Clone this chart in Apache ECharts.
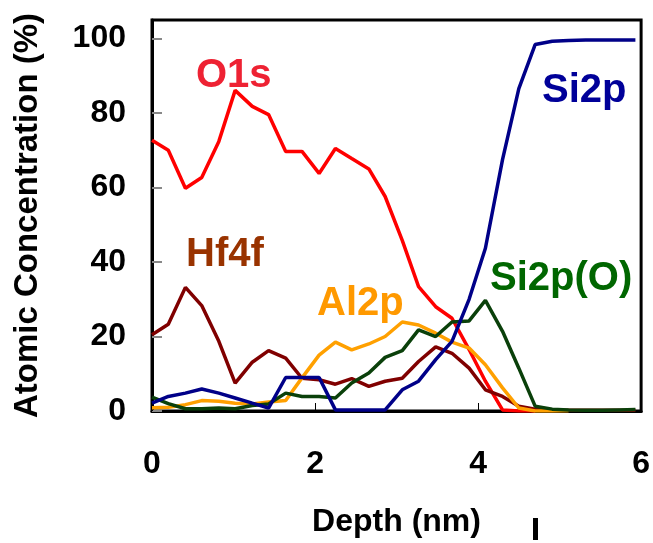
<!DOCTYPE html>
<html>
<head>
<meta charset="utf-8">
<script src="https://cdn.jsdelivr.net/npm/echarts/dist/echarts.min.js"></script>
<style>
  html, body { margin: 0; padding: 0; background: #fff; }
  #main { width: 653px; height: 543px; }
</style>
</head>
<body>
<div id="main"></div>
<script>
// depth (nm) of each sputter step
var depth = [0, 0.20, 0.41, 0.61, 0.82, 1.02, 1.23, 1.43, 1.64, 1.84, 2.05, 2.25, 2.45, 2.66, 2.86,
             3.07, 3.27, 3.48, 3.68, 3.89, 4.09, 4.30, 4.50, 4.70, 4.91, 5.11, 5.32, 5.52, 5.73, 5.93];

// atomic concentration (%)
var o1s   = [72.7, 70, 59.8, 62.7, 72.4, 86.1, 81.8, 79.6, 69.7, 69.7, 63.8, 70.5, 67.8, 65, 57.6,
             45.8, 33.4, 28, 24.9, 16.5, 8, 0.3, 0, 0, null, null, null, null, null, null];
var hf4f  = [20.5, 23.3, 33.2, 28.3, 18.7, 7.5, 13.1, 16.2, 14.2, 8.8, 8.4, 7.2, 8.7, 6.6, 8.0,
             8.8, 13.3, 17.2, 15.5, 11.5, 5.7, 3.9, 1.3, 0.5, 0.3, 0.2, 0.2, 0.2, 0.2, 0.2];
var al2p  = [0.9, 1, 1.7, 2.8, 2.6, 2.1, 1.9, 2.4, 2.8, 8.9, 15, 18.5, 16.4, 18, 20,
             23.9, 23.1, 20.9, 18.5, 16.9, 12.4, 6.2, 0.8, 0, 0, 0.1, null, null, null, null];
var si2pO = [3.7, 2.0, 0.6, 0.6, 0.8, 0.6, 1.5, 1.9, 4.8, 3.9, 3.9, 3.5, 7.5, 10.2, 14.4,
             16.2, 21.8, 20, 23.9, 24.2, 29.7, 21.4, 11.5, 1.3, 0.5, 0.3, 0.2, 0.2, 0.3, 0.4];
var si2p  = [2.1, 3.9, 4.8, 5.9, 4.8, 3.5, 2.1, 0.8, 9, 9, 9, 0.3, 0.3, 0.3, 0.3,
             5.7, 8, 13.8, 18.7, 30, 43.7, 67.5, 86.6, 98.4, 99.3, 99.5, 99.6, 99.6, 99.6, 99.6];

var names = ['O1s', 'Hf4f', 'Al2p', 'Si2p(O)', 'Si2p'];
var lineColors = ['#ff0000', '#800000', '#ffa000', '#0a400a', '#000088'];

function pairs(vals) {
  var out = [];
  for (var i = 0; i < depth.length; i++) {
    if (vals[i] !== null) out.push([depth[i], vals[i]]);
  }
  return out;
}

var chart = echarts.init(document.getElementById('main'));
var font = 'Liberation Sans, Arial, sans-serif';

var series = [o1s, hf4f, al2p, si2pO, si2p].map(function (vals, k) {
  return {
    name: names[k],
    type: 'line',
    data: pairs(vals),
    symbol: 'none',
    lineStyle: { color: lineColors[k], width: 3.5 },
    z: 2 + k
  };
});

// curve labels
function lbl(text, x, y, color) {
  return {
    type: 'text', left: x, top: y, z: 100,
    style: { text: text, fill: color, font: 'bold 40px ' + font }
  };
}

var option = {
  animation: false,
  backgroundColor: '#fff',
  grid: {
    left: 152, right: 11, top: 20, bottom: 130,
    show: true, borderColor: '#000', borderWidth: 3
  },
  xAxis: {
    type: 'value', min: 0, max: 6, interval: 2,
    name: 'Depth (nm)', nameLocation: 'middle', nameGap: 95,
    nameTextStyle: { fontFamily: font, fontWeight: 'bold', fontSize: 32, color: '#000' },
    axisLine: { lineStyle: { color: '#000', width: 3 } },
    axisTick: { inside: true, length: 8, lineStyle: { color: '#000', width: 1 } },
    axisLabel: { margin: 37, fontFamily: font, fontWeight: 'bold', fontSize: 32, color: '#000' },
    splitLine: { show: false }
  },
  yAxis: {
    type: 'value', min: 0, max: 105, interval: 20,
    name: 'Atomic Concentration (%)', nameLocation: 'middle', nameGap: 108,
    nameTextStyle: { fontFamily: font, fontWeight: 'bold', fontSize: 33, color: '#000' },
    axisLine: { lineStyle: { color: '#000', width: 3 } },
    axisTick: { inside: true, length: 10, lineStyle: { color: '#888', width: 2 } },
    axisLabel: { margin: 26, showMaxLabel: false, fontFamily: font, fontWeight: 'bold', fontSize: 32, color: '#000' },
    splitLine: { show: false }
  },
  series: series,
  graphic: [
    lbl('O1s', 196, 56, '#ee2233'),
    lbl('Hf4f', 186, 235, '#993300'),
    lbl('Al2p', 317, 284, '#ff9900'),
    lbl('Si2p', 542, 71, '#000099'),
    lbl('Si2p(O)', 490, 259, '#006600'),
    { type: 'rect', left: 533, top: 518, shape: { width: 5, height: 22 }, style: { fill: '#000' } }
  ]
};
chart.setOption(option);
</script>
</body>
</html>
